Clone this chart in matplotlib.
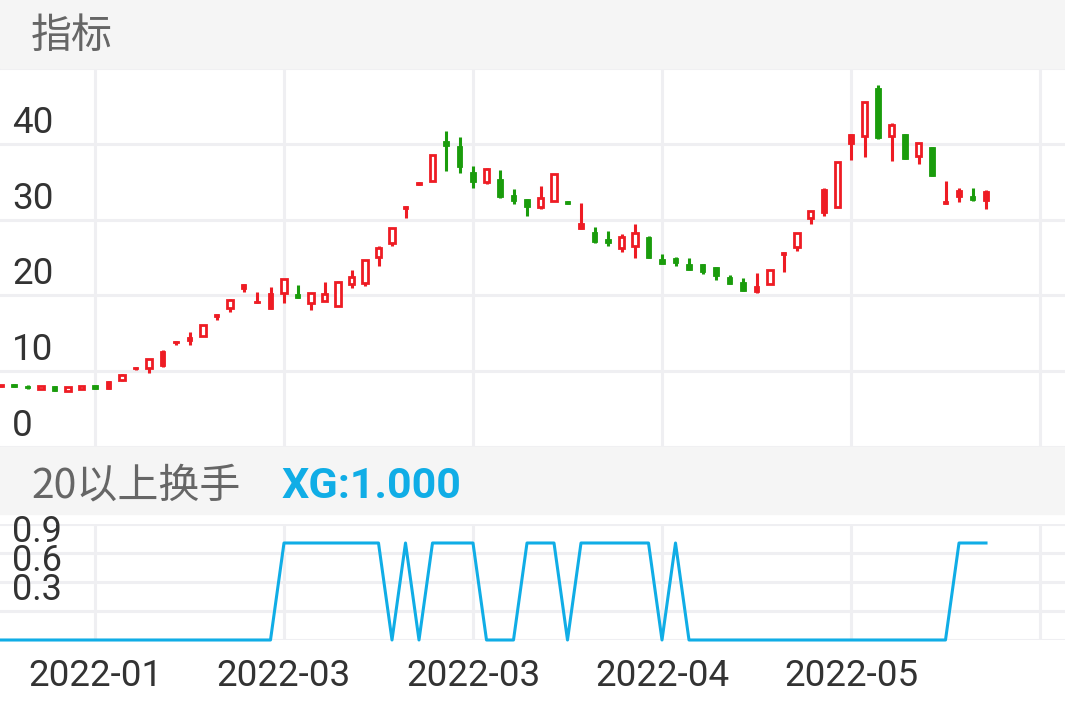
import matplotlib
matplotlib.use("Agg")
import matplotlib.pyplot as plt
from matplotlib.patches import Rectangle

plt.rcParams['font.family'] = ['Roboto', 'Noto Sans CJK SC', 'DejaVu Sans']

W, H = 1065, 708

# daily candles (open, high, low, close)
opens = [8.0, 8.25, 8.1, 7.65, 8.0, 7.45, 7.65, 8.15, 8.7, 8.8,
         10.5, 10.4, 12.7, 14.0, 14.55, 14.7, 17.6, 18.4, 21.45, 19.3,
         20.3, 20.3, 20.15, 18.95, 19.3, 18.65, 21.5, 21.7, 25.1, 26.9,
         31.8, 35.0, 35.1, 40.35, 39.7, 36.3, 34.9, 35.35, 33.25, 32.7,
         31.7, 32.5, 32.4, 29.5, 28.3, 27.4, 26.2, 26.55, 27.65, 24.8,
         24.95, 24.15, 24.2, 23.8, 22.4, 21.75, 21.2, 21.5, 25.7, 26.4,
         30.2, 34.1, 31.7, 41.3, 41.05, 47.3, 41.05, 41.3, 38.4, 39.6,
         32.45, 33.9, 33.15, 33.8]
highs = [8.2, 8.3, 8.15, 8.05, 8.05, 7.95, 8.1, 8.2, 8.75, 9.6,
         10.55, 11.6, 12.8, 14.0, 15.2, 16.1, 17.6, 19.5, 21.5, 20.4,
         21.05, 22.2, 21.35, 20.3, 21.8, 21.85, 23.35, 24.7, 26.55, 28.85,
         31.8, 35.0, 38.55, 41.7, 40.95, 37.05, 36.8, 36.6, 34.1, 32.7,
         34.4, 36.0, 32.45, 32.15, 29.0, 28.5, 28.05, 29.4, 27.9, 25.45,
         25.1, 24.9, 24.2, 23.8, 22.7, 22.25, 23.0, 23.35, 25.7, 28.2,
         31.1, 34.2, 37.6, 41.3, 45.5, 47.75, 42.8, 41.3, 40.05, 39.6,
         35.1, 34.2, 34.2, 33.9]
lows = [7.9, 7.85, 7.7, 7.6, 7.45, 7.43, 7.6, 7.6, 7.6, 8.75,
        10.2, 9.8, 10.6, 13.5, 13.4, 14.7, 16.8, 17.8, 20.4, 19.0,
        18.2, 19.05, 19.6, 18.1, 19.2, 18.6, 20.95, 21.3, 23.9, 26.55,
        30.2, 34.6, 35.1, 36.45, 36.2, 34.2, 34.7, 32.8, 32.1, 30.5,
        31.35, 32.5, 32.05, 28.75, 26.95, 26.5, 25.75, 24.95, 25.0, 24.15,
        23.9, 23.35, 22.8, 22.0, 21.5, 20.6, 20.35, 21.5, 23.15, 25.85,
        29.4, 30.5, 31.7, 37.8, 38.2, 40.6, 37.7, 38.0, 37.3, 35.7,
        32.05, 32.35, 32.45, 31.45]
closes = [8.2, 7.9, 7.75, 8.0, 7.45, 7.9, 8.05, 7.65, 7.65, 9.55,
          10.3, 11.55, 10.7, 13.75, 14.0, 16.1, 17.2, 19.45, 20.8, 19.0,
          18.25, 22.1, 19.65, 20.3, 20.2, 21.8, 22.45, 24.65, 26.2, 28.85,
          31.4, 34.6, 38.5, 39.7, 37.0, 34.9, 36.7, 32.95, 32.5, 31.7,
          32.9, 36.0, 32.1, 28.8, 27.1, 26.9, 27.75, 28.2, 25.0, 24.15,
          24.3, 23.35, 23.1, 22.5, 21.5, 20.6, 20.5, 23.35, 25.3, 28.2,
          31.1, 30.9, 37.6, 40.0, 45.45, 40.8, 42.45, 38.0, 40.05, 35.7,
          32.05, 32.95, 32.6, 32.5]
# down days that are still drawn red (solid red body)
red_solid = [8, 10, 12, 13, 14, 16, 18, 19, 20, 30, 31, 43, 56, 58, 61,
             63, 70, 71, 73]

# XG signal (20以上换手)
xg = [0] * 21 + [1] * 8 + [0, 1, 0] + [1] * 4 + [0] * 3 + [1] * 3 + [0] \
     + [1] * 6 + [0, 1] + [0] * 20 + [1] * 3

date_ticks = [7, 21, 35, 49, 63, 77]
date_labels = ['2022-01', '2022-03', '2022-03', '2022-04', '2022-05', '']

RED = '#ee1c24'
GREEN = '#1a9c0c'
BLUE = '#10ade6'
GRID = '#efeff2'
BAND = '#f5f5f5'


def px_rect(left, top, right, bottom):
    return [left / W, 1 - bottom / H, (right - left) / W, (bottom - top) / H]


fig = plt.figure(figsize=(W / 100, H / 100), dpi=100)
fig.patch.set_facecolor('white')

# gray title bands
for top, bottom in [(0, 68), (447, 514)]:
    fig.patches.append(Rectangle((0, 1 - bottom / H), 1, (bottom - top) / H,
                                 transform=fig.transFigure, color=BAND, zorder=0))
fig.text(31 / W, 1 - 36 / H, '指标', fontsize=29.5, color='#666666',
         va='center', ha='left', family=['Noto Sans CJK SC', 'DejaVu Sans'])
fig.text(31 / W, 1 - 486 / H, '20以上换手', fontsize=29.5, color='#666666',
         va='center', ha='left', family=['Noto Sans CJK SC', 'DejaVu Sans'])
fig.text(282 / W, 1 - 486 / H, 'XG:%.3f' % xg[-1], fontsize=31, color=BLUE,
         fontweight='bold', va='center', ha='left', family=['Roboto', 'DejaVu Sans'])

xlim = (-0.5 / 13.5, (W - 0.5) / 13.5)

# main candle chart
ax = fig.add_axes(px_rect(0, 68, W, 447))
ax.set_xlim(*xlim)
ax.set_ylim(0, 50)
ax.set_xticks(date_ticks)
ax.set_yticks(range(0, 51, 10))
ax.tick_params(length=0, labelbottom=False, labelleft=False)
ax.grid(True, color=GRID, lw=2.2)
ax.set_axisbelow(True)
for s in ax.spines.values():
    s.set_visible(False)

w = 0.42
for i, (o, h, l, c) in enumerate(zip(opens, highs, lows, closes)):
    up = c >= o
    col = RED if (up or i in red_solid) else GREEN
    ax.vlines(i, l, h, color=col, lw=2.2, zorder=2)
    bot, top = min(o, c), max(o, c)
    if up:
        ax.add_patch(Rectangle((i - w / 2, bot), w, top - bot, facecolor='white',
                               edgecolor=col, lw=2.0, zorder=3))
    else:
        ax.add_patch(Rectangle((i - w / 2, bot), w, max(top - bot, 0.25), facecolor=col,
                               edgecolor=col, lw=0.6, zorder=3))

for v in range(0, 50, 10):
    ax.annotate(str(v), xy=(0, v), xycoords=('axes fraction', 'data'),
                xytext=(12, 11), textcoords='offset pixels', va='baseline',
                ha='left', fontsize=26.5, color='#333333')

# XG line chart
ax2 = fig.add_axes(px_rect(0, 523.6, W, 640))
ax2.set_xlim(*xlim)
ax2.set_ylim(0, 1.2)
ax2.set_yticks([0, 0.3, 0.6, 0.9, 1.2])
ax2.set_xticks(date_ticks)
ax2.set_xticklabels(date_labels, fontsize=26.5, color='#333333')
ax2.tick_params(length=0, labelleft=False, pad=13)
ax2.grid(True, color=GRID, lw=2.2)
ax2.set_axisbelow(True)
for s in ax2.spines.values():
    s.set_visible(False)
ax2.plot(range(len(xg)), xg, color=BLUE, lw=2.2, clip_on=False, zorder=3)

for v in [0.3, 0.6, 0.9]:
    ax2.annotate('%.1f' % v, xy=(0, v), xycoords=('axes fraction', 'data'),
                 xytext=(12, 11), textcoords='offset pixels', va='baseline',
                 ha='left', fontsize=26, color='#333333')

fig.savefig('out.png', dpi=100)
